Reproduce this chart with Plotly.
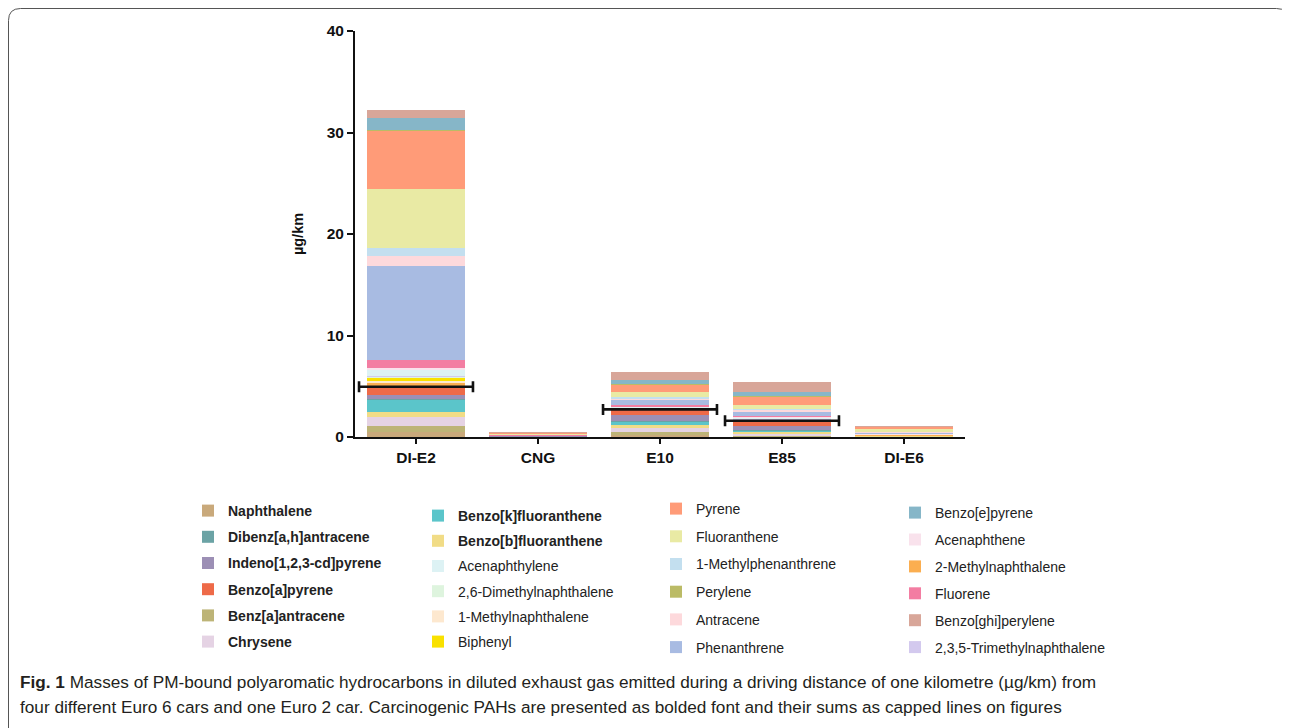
import plotly.graph_objects as go

# --- data (µg/km) ---
cars = ["DI-E2", "CNG", "E10", "E85", "DI-E6"]

# carcinogenic PAHs (bold in legend), listed bottom -> top of the stack
naphthalene = [0.50, 0.03, 0.20, 0.05, 0.05]
benz_a_antracene = [0.55, 0.01, 0.30, 0.10, 0.02]
chrysene = [0.92, 0.02, 0.36, 0.12, 0.02]
benzo_b_fluoranthene = [0.46, 0.02, 0.30, 0.23, 0.02]
benzo_k_fluoranthene = [1.28, 0.01, 0.33, 0.12, 0.01]
dibenz_ah_antracene = [0.05, 0.00, 0.05, 0.03, 0.00]
indeno_pyrene = [0.33, 0.01, 0.66, 0.43, 0.01]
benzo_a_pyrene = [0.90, 0.02, 0.48, 0.50, 0.02]

# other PAHs
methylnaphthalene_2 = [0.40, 0.02, 0.10, 0.05, 0.05]
methylnaphthalene_1 = [0.17, 0.01, 0.05, 0.03, 0.03]
biphenyl = [0.23, 0.01, 0.02, 0.02, 0.01]
dimethylnaphthalene_26 = [0.20, 0.01, 0.05, 0.05, 0.02]
trimethylnaphthalene_235 = [0.05, 0.00, 0.02, 0.05, 0.01]
acenaphthylene = [0.56, 0.01, 0.08, 0.15, 0.02]
acenaphthene = [0.23, 0.01, 0.05, 0.05, 0.02]
fluorene = [0.76, 0.02, 0.13, 0.10, 0.06]
phenanthrene = [9.30, 0.06, 0.43, 0.46, 0.10]
antracene = [0.95, 0.01, 0.20, 0.12, 0.03]
methylphenanthrene_1 = [0.82, 0.01, 0.10, 0.10, 0.02]
fluoranthene = [5.78, 0.08, 0.53, 0.43, 0.25]
pyrene = [5.71, 0.08, 0.69, 0.79, 0.22]
perylene = [0.05, 0.00, 0.10, 0.05, 0.01]
benzo_e_pyrene = [1.18, 0.01, 0.36, 0.38, 0.01]
benzo_ghi_perylene = [0.79, 0.01, 0.85, 1.00, 0.01]

# sums of carcinogenic PAHs (capped lines)
carcinogenic_sum = [4.95, None, 2.72, 1.60, None]

stack = [
    ("Naphthalene", naphthalene, "#C9A97B", True),
    ("Benz[a]antracene", benz_a_antracene, "#BDB477", True),
    ("Chrysene", chrysene, "#E5D3E4", True),
    ("Benzo[b]fluoranthene", benzo_b_fluoranthene, "#F1DC86", True),
    ("Benzo[k]fluoranthene", benzo_k_fluoranthene, "#5BC5CA", True),
    ("Dibenz[a,h]antracene", dibenz_ah_antracene, "#6BA3A5", True),
    ("Indeno[1,2,3-cd]pyrene", indeno_pyrene, "#9C8FB5", True),
    ("Benzo[a]pyrene", benzo_a_pyrene, "#EE6A48", True),
    ("2-Methylnaphthalene", methylnaphthalene_2, "#FBAE50", False),
    ("1-Methylnaphthalene", methylnaphthalene_1, "#FDE8CF", False),
    ("Biphenyl", biphenyl, "#F9E100", False),
    ("2,6-Dimethylnaphthalene", dimethylnaphthalene_26, "#DEF4DE", False),
    ("2,3,5-Trimethylnaphthalene", trimethylnaphthalene_235, "#D3C9EE", False),
    ("Acenaphthylene", acenaphthylene, "#DDF2F4", False),
    ("Acenaphthene", acenaphthene, "#F9E2EC", False),
    ("Fluorene", fluorene, "#F37DA2", False),
    ("Phenanthrene", phenanthrene, "#A8BBE2", False),
    ("Antracene", antracene, "#FDD9DC", False),
    ("1-Methylphenanthrene", methylphenanthrene_1, "#C3DFEF", False),
    ("Fluoranthene", fluoranthene, "#E9EAA4", False),
    ("Pyrene", pyrene, "#FF9B78", False),
    ("Perylene", perylene, "#BBBB66", False),
    ("Benzo[e]pyrene", benzo_e_pyrene, "#86B6C8", False),
    ("Benzo[ghi]perylene", benzo_ghi_perylene, "#D8A699", False),
]

# legend columns (column-major, as in the figure)
legend_cols = [
    ["Naphthalene", "Dibenz[a,h]antracene", "Indeno[1,2,3-cd]pyrene",
     "Benzo[a]pyrene", "Benz[a]antracene", "Chrysene"],
    ["Benzo[k]fluoranthene", "Benzo[b]fluoranthene", "Acenaphthylene",
     "2,6-Dimethylnaphthalene", "1-Methylnaphthalene", "Biphenyl"],
    ["Pyrene", "Fluoranthene", "1-Methylphenanthrene", "Perylene",
     "Antracene", "Phenanthrene"],
    ["Benzo[e]pyrene", "Acenaphthene", "2-Methylnaphthalene", "Fluorene",
     "Benzo[ghi]perylene", "2,3,5-Trimethylnaphthalene"],
]
legend_ids = ["legend", "legend2", "legend3", "legend4"]

# the page body adds an 8px offset, so figure coords = page coords - 8
W, H = 1282, 720
L, R, T, B = 347, 957, 23, 429


def px_x(x):
    return (x - L) / (R - L)


def px_y(y):
    return (B - y) / (B - T)


xpos = list(range(len(cars)))
fig = go.Figure()

for name, vals, color, bold in stack:
    col = next(i for i, c in enumerate(legend_cols) if name in c)
    rank = legend_cols[col].index(name)
    fig.add_trace(go.Bar(
        x=xpos, y=vals,
        name=f"<b>{name}</b>" if bold else name,
        marker=dict(color=color, line=dict(width=0)),
        width=0.8,
        legend=legend_ids[col],
        legendgroup=name,
        legendrank=rank + 1,
        hovertemplate=name + ": %{y} µg/km<extra></extra>",
    ))

# capped lines for carcinogenic sums
fig.add_trace(go.Scatter(
    x=xpos, y=carcinogenic_sum,
    mode="markers",
    marker=dict(size=1, color="#111111"),
    error_x=dict(type="constant", value=0.467, color="#111111",
                 thickness=2.6, width=5.5),
    showlegend=False,
    hoverinfo="skip",
))

axis_font = dict(family="Liberation Sans, Arial, sans-serif", size=15.5,
                 color="#111111", weight="bold")

fig.update_layout(
    width=W, height=H,
    margin=dict(l=L, r=W - R, t=T, b=H - B, autoexpand=False),
    barmode="stack",
    plot_bgcolor="white",
    paper_bgcolor="white",
    font=dict(family="Liberation Sans, Arial, sans-serif", color="#222222"),
    xaxis=dict(
        range=[-0.5, 4.5], tickvals=xpos, ticktext=cars,
        showline=True, linecolor="#111111", linewidth=2,
        ticks="outside", ticklen=5, tickwidth=2, tickcolor="#111111",
        tickfont=axis_font, showgrid=False, zeroline=False,
    ),
    yaxis=dict(
        range=[0, 40], tickvals=[0, 10, 20, 30, 40],
        showline=True, linecolor="#111111", linewidth=2,
        ticks="outside", ticklen=6, tickwidth=2, tickcolor="#111111",
        tickfont=axis_font, showgrid=False, zeroline=False,
        title=dict(text="µg/km", standoff=20,
                   font=dict(family="Liberation Sans, Arial, sans-serif",
                             size=14.5, color="#111111", weight="bold")),
    ),
    bargap=0.2,
)

legend_x = [180, 410, 648, 887]
legend_top = [487, 492, 485, 489]
legend_gap = [5, 4, 6.5, 5.7]
for i, lid in enumerate(legend_ids):
    fig.update_layout({lid: dict(
        x=px_x(legend_x[i]), y=px_y(legend_top[i]),
        xanchor="left", yanchor="top",
        orientation="v", traceorder="grouped",
        tracegroupgap=legend_gap[i],
        bgcolor="rgba(0,0,0,0)",
        font=dict(family="Liberation Sans, Arial, sans-serif", size=14,
                  color="#222222"),
    )})

# caption
cap_font = dict(family="Liberation Sans, Arial, sans-serif", size=17.2,
                color="#231F20")
fig.add_annotation(
    xref="paper", yref="paper", x=px_x(10), y=px_y(674),
    xanchor="left", yanchor="middle", showarrow=False, align="left",
    text="<b>Fig. 1</b> Masses of PM-bound polyaromatic hydrocarbons in diluted "
         "exhaust gas emitted during a driving distance of one kilometre (µg/km) from",
    font=cap_font,
)
fig.add_annotation(
    xref="paper", yref="paper", x=px_x(10), y=px_y(699),
    xanchor="left", yanchor="middle", showarrow=False, align="left",
    text="four different Euro 6 cars and one Euro 2 car. Carcinogenic PAHs "
         "are presented as bolded font and their sums as capped lines on figures",
    font=cap_font,
)

# rounded frame around the figure
fl, fr, ft, rr = 0.5, 1280.5, 0.5, 12
path = (f"M {px_x(fl)},{px_y(740)} L {px_x(fl)},{px_y(ft + rr)} "
        f"Q {px_x(fl)},{px_y(ft)} {px_x(fl + rr)},{px_y(ft)} "
        f"L {px_x(fr - rr)},{px_y(ft)} "
        f"Q {px_x(fr)},{px_y(ft)} {px_x(fr)},{px_y(ft + rr)} "
        f"L {px_x(fr)},{px_y(740)}")
fig.add_shape(type="path", path=path, xref="paper", yref="paper",
              line=dict(color="#555555", width=1))

fig.write_html("out.html")
